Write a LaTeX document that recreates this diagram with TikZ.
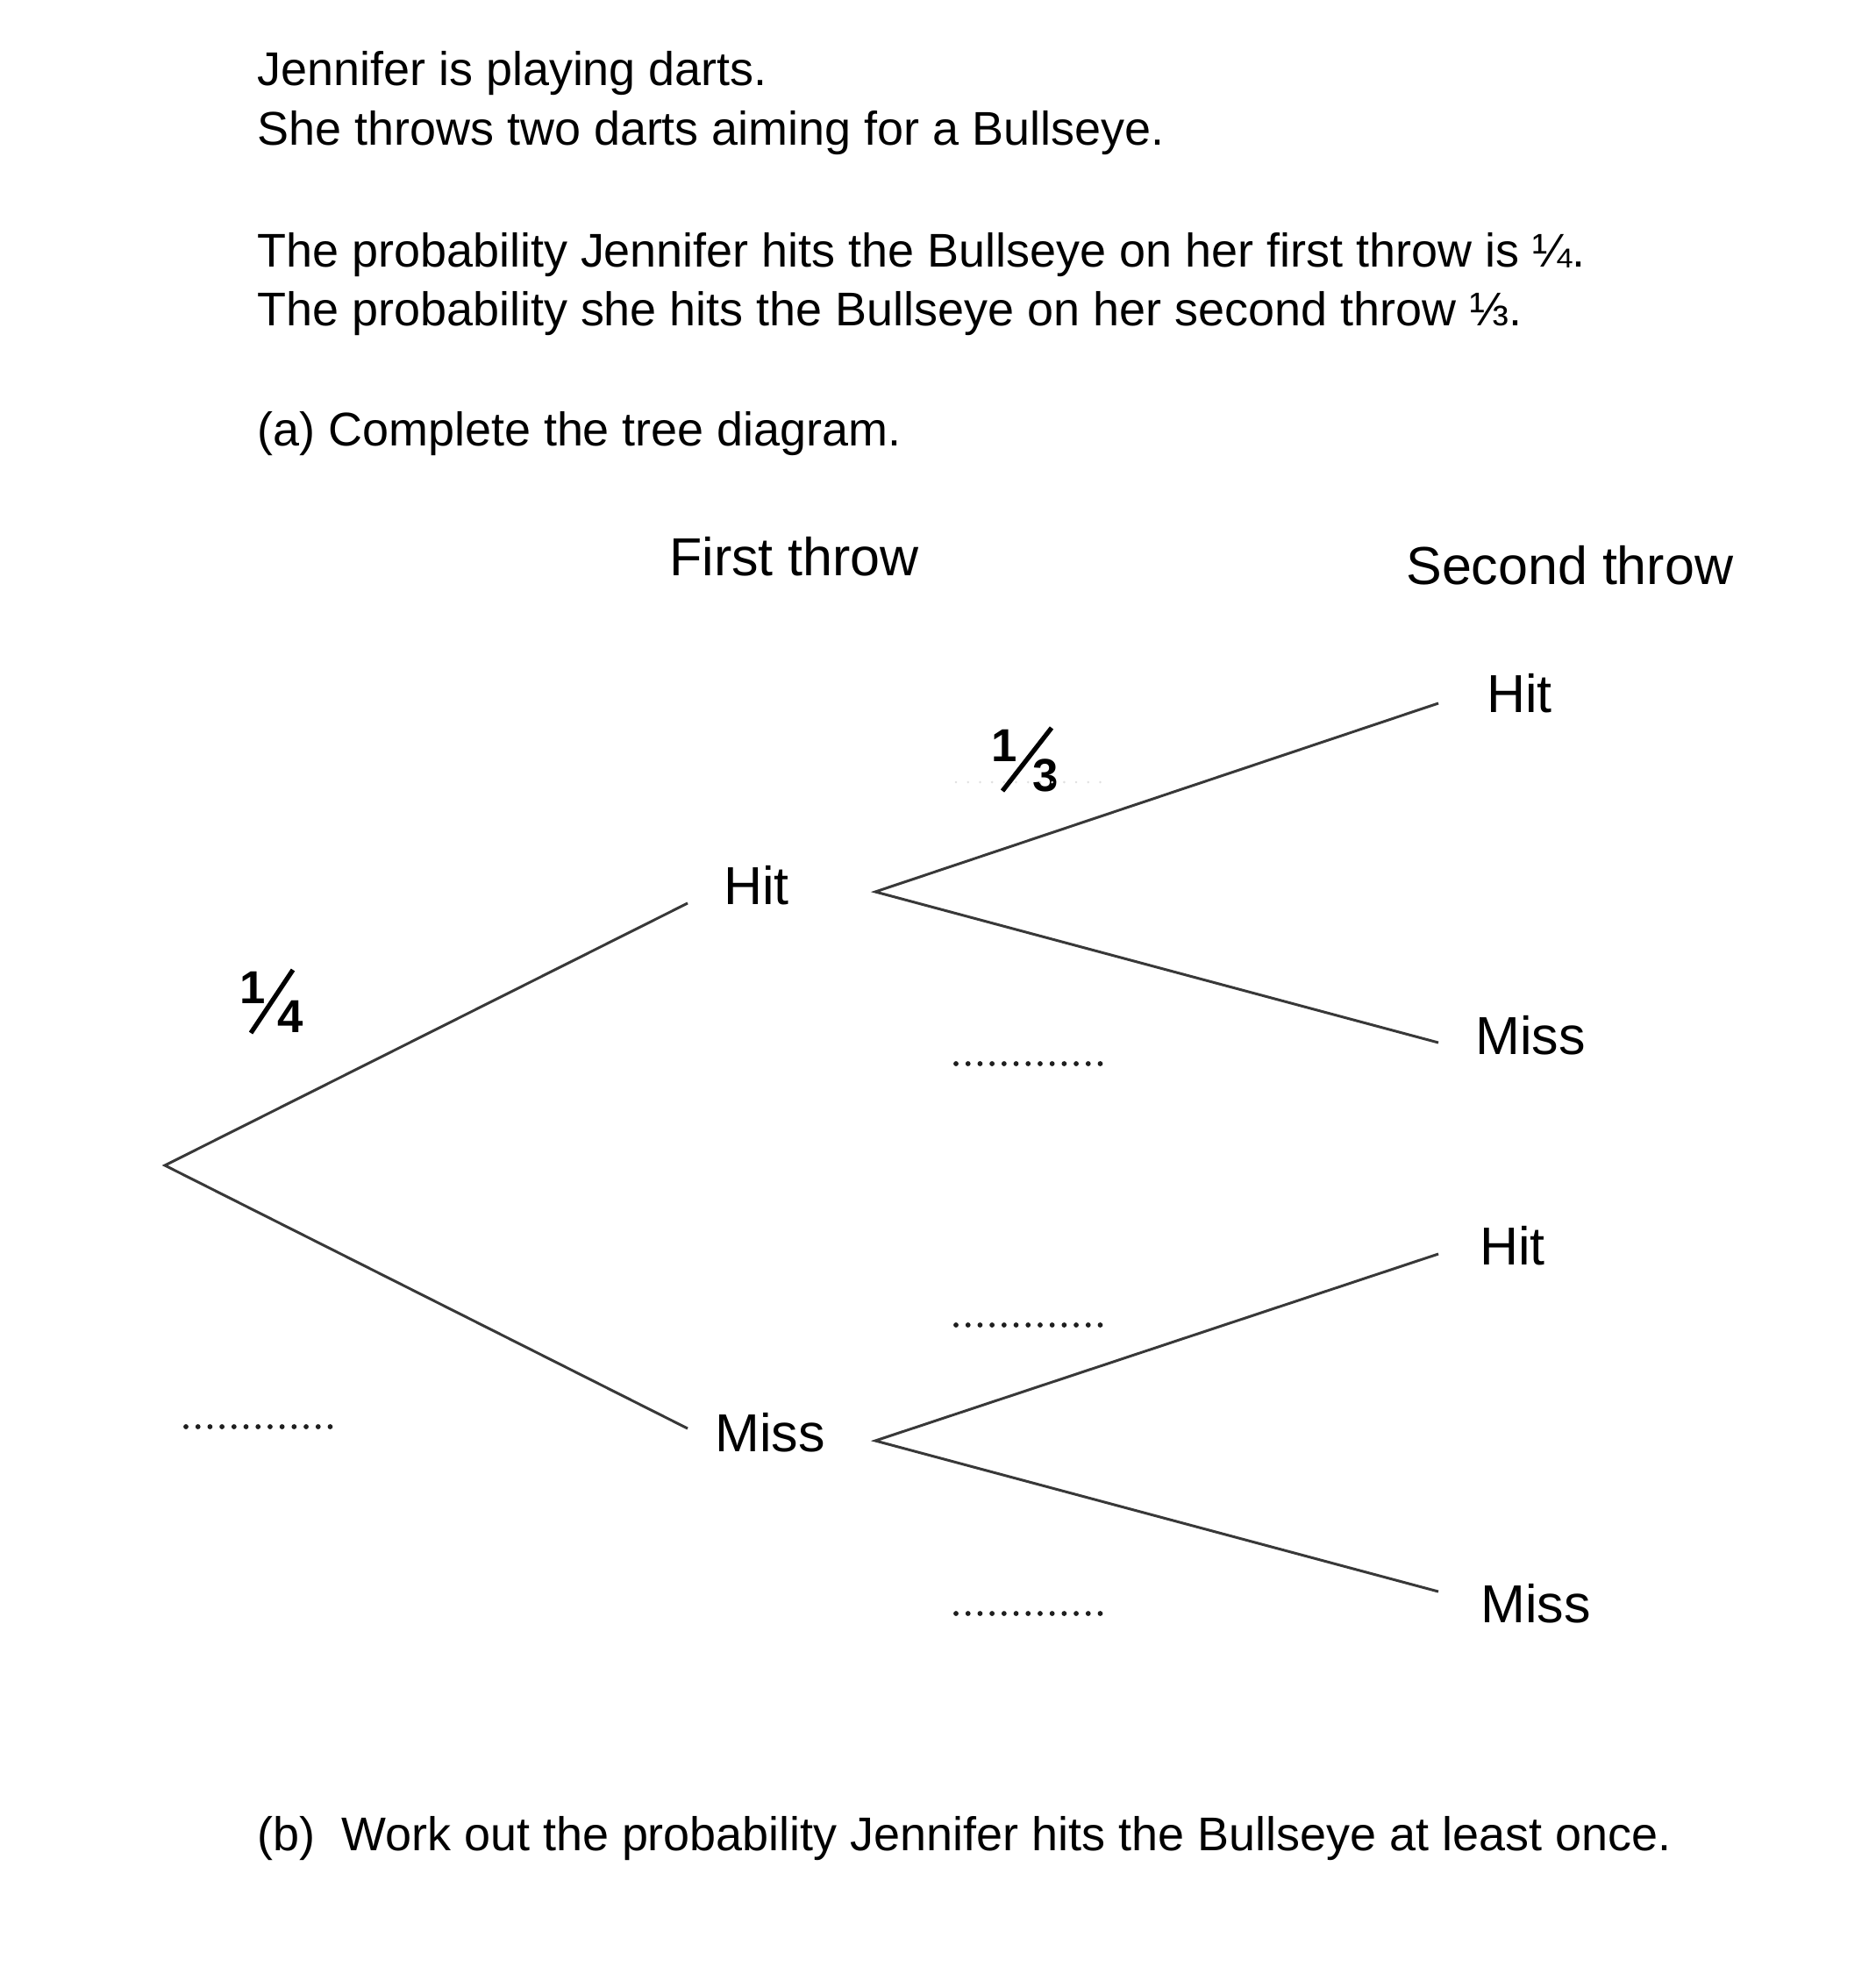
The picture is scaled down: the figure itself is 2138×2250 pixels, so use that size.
\documentclass[tikz,border=0pt]{standalone}
\usepackage{fontspec}
\setmainfont{Liberation Sans}
\begin{document}
\begin{tikzpicture}[x=0.02cm,y=-0.02cm,
  body/.style={anchor=base west,inner sep=0,font=\fontsize{30.7}{36}\selectfont},
  lab/.style={anchor=base west,inner sep=0,font=\fontsize{34.7}{40}\selectfont},
  fdig/.style={anchor=base west,inner sep=0,font=\bfseries\fontsize{30}{34}\selectfont},
  fslash/.style={line width=3pt,draw=black},
  branch/.style={line width=1.7pt,draw=black!78},
  blank/.style={line width=3.3pt,dash pattern=on 0pt off 7.8pt,line cap=round,draw=black!88},
  faint/.style={line width=1.6pt,dash pattern=on 0pt off 7.8pt,line cap=round,draw=black!12}]
\fill[white] (0,0) rectangle (2138,2250);
\useasboundingbox (0,0) rectangle (2138,2250);

% question text
\node[body] (t1) at (293,98) {Jennifer is playing darts.};
\node[body] (t2) at (293,166) {She throws two darts aiming for a Bullseye.};
\node[body] (t3) at (293,305) {The probability Jennifer hits the Bullseye on her first throw is ¼.};
\node[body] (t4) at (293,372) {The probability she hits the Bullseye on her second throw ⅓.};
\node[body] (t5) at (293,508) {(a) Complete the tree diagram.};
\node[body] (t6) at (293,2110) {(b)\ \ Work out the probability Jennifer hits the Bullseye at least once.};

% headings
\node[lab] (h1) at (763,656) {First throw};
\node[lab] (h2) at (1603,666) {Second throw};

% tree labels
\node[lab] (hit1) at (825,1031) {Hit};
\node[lab] (miss1) at (815,1655) {Miss};
\node[lab] (hit2a) at (1695,812) {Hit};
\node[lab] (miss2a) at (1682,1202) {Miss};
\node[lab] (hit2b) at (1687,1442) {Hit};
\node[lab] (miss2b) at (1688,1850) {Miss};

% branch points
\coordinate (root) at (188,1329);
\coordinate (bh) at (998,1017);
\coordinate (bm) at (998,1643);
\coordinate (e1) at (784,1030);
\coordinate (e2) at (784,1629);
\coordinate (e3) at (1640,802);
\coordinate (e4) at (1640,1189);
\coordinate (e5) at (1640,1430);
\coordinate (e6) at (1640,1815);

\draw[branch] (e1) -- (root) -- (e2);
\draw[branch] (e3) -- (bh) -- (e4);
\draw[branch] (e5) -- (bm) -- (e6);

% given probabilities: 1/4
\node[fdig] (p1n) at (273,1144) {1};
\node[fdig] (p1d) at (316,1177) {4};
\coordinate (p1s) at (286,1178);
\coordinate (p1e) at (334,1106);
\draw[fslash] (p1s) -- (p1e);
% 1/3
\node[fdig] (p2n) at (1130,868) {1};
\node[fdig] (p2d) at (1177,902) {3};
\coordinate (p2s) at (1143,902);
\coordinate (p2e) at (1199,830);
\draw[fslash] (p2s) -- (p2e);

% blanks
\coordinate (f1a) at (1090,892); \coordinate (f1b) at (1256,892);
\draw[faint] (f1a) -- (f1b);
\coordinate (d1a) at (1090,1213); \coordinate (d1b) at (1256,1213);
\draw[blank] (d1a) -- (d1b);
\coordinate (d2a) at (1090,1511); \coordinate (d2b) at (1256,1511);
\draw[blank] (d2a) -- (d2b);
\coordinate (d3a) at (1090,1840); \coordinate (d3b) at (1256,1840);
\draw[blank] (d3a) -- (d3b);
\coordinate (d4a) at (212,1627); \coordinate (d4b) at (378,1627);
\draw[blank] (d4a) -- (d4b);
\end{tikzpicture}
\end{document}
